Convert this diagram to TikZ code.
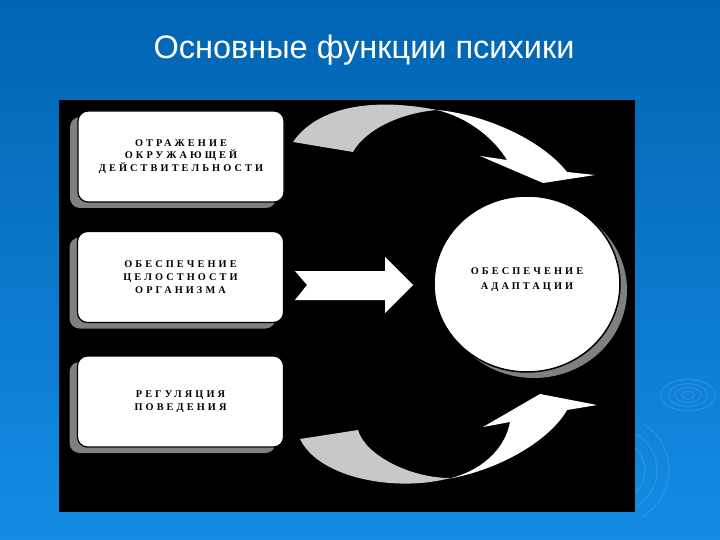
\documentclass[tikz,border=0pt]{standalone}
\usepackage{fontspec}
\setmainfont{Liberation Serif}
\newfontfamily\titlefont{Liberation Sans}
\newfontfamily\boxfont[LetterSpace=30]{Liberation Serif}
\usetikzlibrary{shadows,shapes.geometric}
\definecolor{bgtop}{RGB}{0,100,178}
\definecolor{bgbot}{RGB}{20,140,228}
\definecolor{ripple}{RGB}{70,160,235}
\definecolor{ribgray}{RGB}{200,200,200}
\definecolor{shgray}{RGB}{128,128,128}
\tikzset{
  funcbox/.style={draw=black, line width=1.2pt, fill=white, rounded corners=10pt,
    minimum width=206pt, minimum height=91pt, align=center, inner sep=0pt,
    font=\boxfont\bfseries\fontsize{10.3}{12.8}\selectfont,
    general shadow={fill=shgray, shadow xshift=-8pt, shadow yshift=-6pt}},
  goalnode/.style={ellipse, draw=black, line width=1.5pt, fill=white,
    minimum width=186pt, minimum height=176pt, align=center, inner sep=0pt,
    font=\boxfont\bfseries\fontsize{10.3}{14.5}\selectfont,
    general shadow={fill=shgray, shadow xshift=7pt, shadow yshift=-6pt}},
  ribbonlight/.style={fill=ribgray},
  ribbonwhite/.style={fill=white},
  rip/.style={draw=ripple, line width=1.2pt, opacity=0.45}
}
\begin{document}
\begin{tikzpicture}[x=1pt,y=-1pt]
\shade[top color=bgtop, bottom color=bgbot] (0,0) rectangle (720,540);
\useasboundingbox (0,0) rectangle (720,540);
% ripples
\foreach \r in {5,10,15,21} \draw[rip] (688,395) ellipse ({\r*1.3} and {\r*0.75});
\foreach \r in {30,42,54} \draw[rip] (615,470) ++(60:\r) arc (60:-60:\r);
\foreach \r in {40,55,70} \draw[rip] (350,560) ++(60:\r) arc (60:120:\r);
% title
\node[text=white, font=\titlefont\fontsize{32.5}{36}\selectfont] (title) at (364,50) {Основные функции психики};
% panel
\fill[black] (59,100) rectangle (635,512);
% boxes
\node[funcbox] (refl) at (181,156.5) {ОТРАЖЕНИЕ\\ОКРУЖАЮЩЕЙ\\ДЕЙСТВИТЕЛЬНОСТИ};
\node[funcbox] (integ) at (180.5,277) {ОБЕСПЕЧЕНИЕ\\ЦЕЛОСТНОСТИ\\ОРГАНИЗМА};
\node[funcbox] (reg) at (180.5,401.5) {РЕГУЛЯЦИЯ\\ПОВЕДЕНИЯ};
\node[goalnode] (adapt) at (527,284) {ОБЕСПЕЧЕНИЕ\\АДАПТАЦИИ\\[-4pt]};
% top curved arrow
\fill[ribbonlight] (293,142) .. controls (315,110) and (365,96) .. (437,110)
  .. controls (400,113) and (365,130) .. (353,152) -- cycle;
\fill[ribbonwhite] (437,110) .. controls (482,114) and (540,138) .. (567,172)
  -- (595,175) -- (543,183) -- (480,156) -- (507,160)
  .. controls (495,140) and (470,118) .. (437,110) -- cycle;
% middle arrow
\fill[white] (295,271) -- (385,271) -- (385,257) -- (413,285) -- (385,313)
  -- (385,300) -- (295,300) -- (307,285) -- cycle;
% bottom curved arrow
\fill[ribbonlight] (300,439) -- (358,430) .. controls (365,455) and (410,478) .. (450,478)
  .. controls (400,492) and (320,480) .. (300,439) -- cycle;
\fill[ribbonwhite] (447,479) .. controls (500,470) and (550,440) .. (567,410)
  -- (597,405) -- (540,394) -- (483,427) -- (510,422)
  .. controls (505,450) and (480,472) .. (447,479) -- cycle;
\end{tikzpicture}
\end{document}
